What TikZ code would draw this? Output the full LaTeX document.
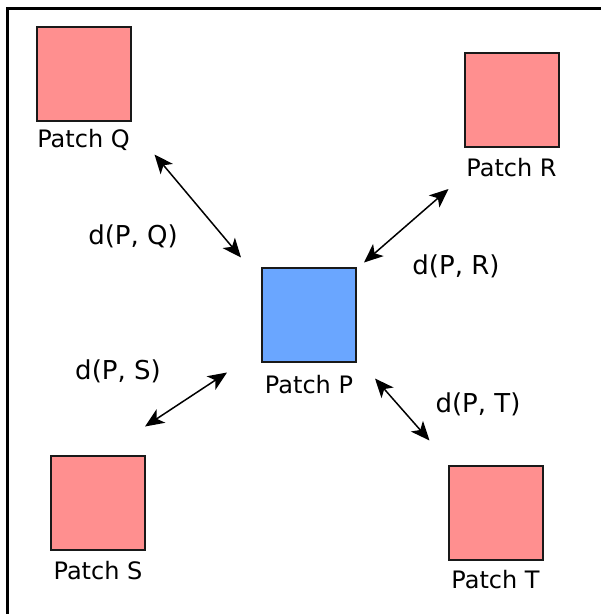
\documentclass[tikz,border=0pt]{standalone}
\usepackage{fontspec}
\setmainfont{DejaVu Sans}
\usetikzlibrary{positioning,arrows.meta}
\definecolor{patchred}{RGB}{255,143,143}
\definecolor{patchblue}{RGB}{106,166,255}
\tikzset{
	patch/.style = {draw=black!90, line width=2pt, minimum size=94pt, inner sep=0pt},
	patchlabel/.style = {inner sep=0pt, font=\fontsize{24}{27}\selectfont},
	dist/.style = {inner sep=0pt, font=\fontsize{26}{29}\selectfont},
	link/.style = {{Stealth[length=19pt,width=16pt,inset=5pt]}-{Stealth[length=19pt,width=16pt,inset=5pt]}, line width=1.5pt},
}
\begin{document}
\begin{tikzpicture}[x=1pt, y=-1pt]
	\path[use as bounding box] (0,0) rectangle (601,614);
	\draw[line width=3pt] (7,616) -- (7,8) -- (603,8);
	% patches
	\node[patch, fill=patchblue] (P) at (309,314.5) {};
	\node[patch, fill=patchred] (Q) at (83.5,73.5) {};
	\node[patch, fill=patchred] (R) at (511.5,100) {};
	\node[patch, fill=patchred] (S) at (98,502.5) {};
	\node[patch, fill=patchred] (T) at (495.5,512.5) {};
	\node[patchlabel, below=13pt of P] (Plab) {Patch P};
	\node[patchlabel, below=8pt of Q] (Qlab) {Patch Q};
	\node[patchlabel, below=10pt of R] (Rlab) {Patch R};
	\node[patchlabel, below=11pt of S] (Slab) {Patch S};
	\node[patchlabel, below=10pt of T] (Tlab) {Patch T};
	% distances
	\draw[link] ([shift={(23,33)}]Q.south east) -- ([shift={(-20,-9)}]P.north west);
	\draw[link] ([shift={(-15,41)}]R.south west) -- ([shift={(7,-4)}]P.north east);
	\draw[link] ([shift={(-1,-28)}]S.north east) -- ([shift={(-34,10)}]P.south west);
	\draw[link] ([shift={(-18,-24)}]T.north west) -- ([shift={(18,16)}]P.south east);
	\node[dist] (dQ) at (133,236) {d(P, Q)};
	\node[dist] (dR) at (456,266) {d(P, R)};
	\node[dist] (dS) at (118,371) {d(P, S)};
	\node[dist] (dT) at (478,404) {d(P, T)};
\end{tikzpicture}
\end{document}
